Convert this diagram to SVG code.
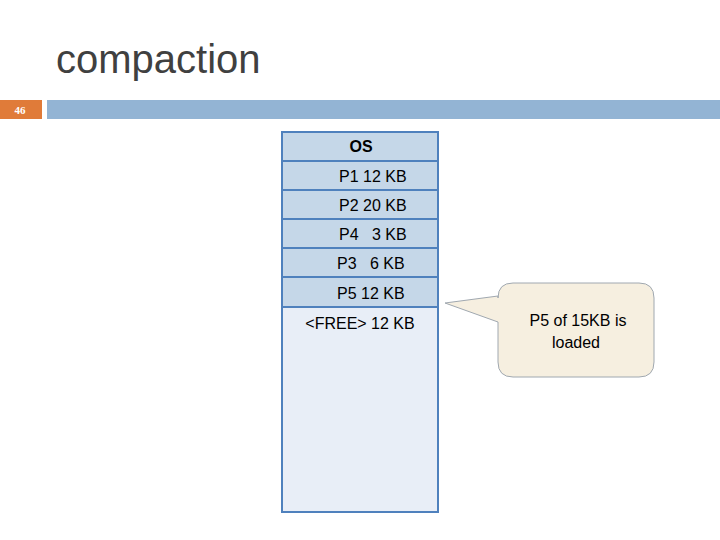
<svg xmlns="http://www.w3.org/2000/svg" width="720" height="540" viewBox="0 0 720 540">
<style>
.t{font-family:"Liberation Sans",Arial,sans-serif;font-size:16px;fill:#000}
.row{fill:#c5d7e8;stroke:#4f81bd;stroke-width:2}
</style>
<rect width="720" height="540" fill="#fff"/>
<text x="56" y="73" font-family="Liberation Sans,Arial,sans-serif" font-size="40" fill="#404040">compaction</text>
<rect x="0" y="100" width="42" height="19" fill="#e07b39"/>
<text x="20" y="114" text-anchor="middle" font-family="Liberation Serif,serif" font-size="11" font-weight="bold" fill="#fff">46</text>
<rect x="47" y="100" width="673" height="19" fill="#93b4d4"/>
<g id="memory">
<rect x="282" y="307" width="156" height="205" fill="#e8eef7" stroke="#4f81bd" stroke-width="2"/>
<rect class="row" x="282" y="132" width="156" height="29"/>
<rect class="row" x="282" y="161" width="156" height="29"/>
<rect class="row" x="282" y="190" width="156" height="29"/>
<rect class="row" x="282" y="219" width="156" height="29"/>
<rect class="row" x="282" y="248" width="156" height="29"/>
<rect class="row" x="282" y="277" width="156" height="30"/>
<text class="t" x="361" y="152" text-anchor="middle" font-weight="bold">OS</text>
<text class="t" x="339" y="182">P1 12 KB</text>
<text class="t" x="339" y="211">P2 20 KB</text>
<text class="t" x="339" y="240" xml:space="preserve">P4   3 KB</text>
<text class="t" x="337" y="269" xml:space="preserve">P3   6 KB</text>
<text class="t" x="337" y="299">P5 12 KB</text>
<text class="t" x="360" y="329" text-anchor="middle">&lt;FREE&gt; 12 KB</text>
</g>
<g id="callout">
<path d="M513,283 H639 Q654,283 654,298 V362 Q654,377 639,377 H513 Q498,377 498,362 V322 L445,303 L498,296 V298 Q498,283 513,283 Z" fill="#f6efe0" stroke="#a0a8b0" stroke-width="1"/>
<text class="t" x="578" y="326" text-anchor="middle">P5 of 15KB is</text>
<text class="t" x="576" y="348" text-anchor="middle">loaded</text>
</g>
</svg>
